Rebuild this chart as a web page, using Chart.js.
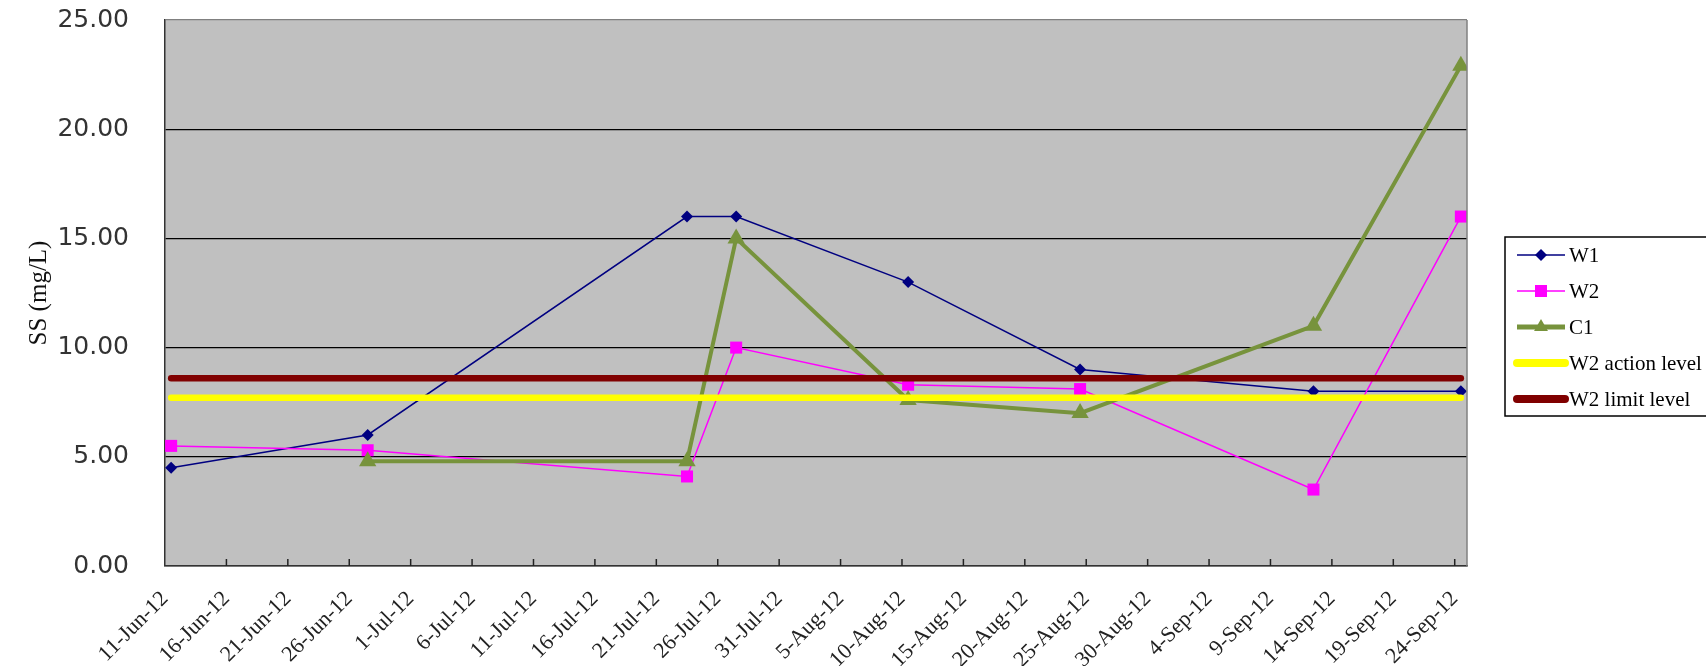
<!DOCTYPE html>
<html>
<head>
<meta charset="utf-8">
<title>SS (mg/L)</title>
<script src="https://cdn.jsdelivr.net/npm/chart.js@4.4.1/dist/chart.umd.min.js"></script>
<style>
    html, body { margin: 0; padding: 0; background: #ffffff; }
    #wrap { width: 1706px; height: 666px; position: relative; }
</style>
</head>
<body>
<div id="wrap"><canvas id="ssChart" width="1706" height="666"></canvas></div>
<script>
// Sampling dates and values
const sampleDates = ["11-Jun-12", "27-Jun-12", "23-Jul-12", "27-Jul-12", "10-Aug-12", "24-Aug-12", "12-Sep-12", "24-Sep-12"];
const w1Values = [4.5, 6.0, 16.0, 16.0, 13.0, 9.0, 8.0, 8.0];
const w2Values = [5.5, 5.3, 4.1, 10.0, 8.3, 8.1, 3.5, 16.0];
const c1Values = [null, 4.8, 4.8, 15.0, 7.6, 7.0, 11.0, 22.9];
const actionValues = [7.7, 7.7, 7.7, 7.7, 7.7, 7.7, 7.7, 7.7];
const limitValues = [8.6, 8.6, 8.6, 8.6, 8.6, 8.6, 8.6, 8.6];

// Axis tick labels
const tickDates = ["11-Jun-12", "16-Jun-12", "21-Jun-12", "26-Jun-12", "1-Jul-12", "6-Jul-12", "11-Jul-12",
    "16-Jul-12", "21-Jul-12", "26-Jul-12", "31-Jul-12", "5-Aug-12", "10-Aug-12", "15-Aug-12", "20-Aug-12",
    "25-Aug-12", "30-Aug-12", "4-Sep-12", "9-Sep-12", "14-Sep-12", "19-Sep-12", "24-Sep-12"];
const yTicks = [0, 5, 10, 15, 20, 25];

const months = ["Jan", "Feb", "Mar", "Apr", "May", "Jun", "Jul", "Aug", "Sep", "Oct", "Nov", "Dec"];

// Function to turn "dd-Mon-yy" into days after the first tick date
function dayOf(label) {
    const parts = label.split("-");
    const t = Date.UTC(2000 + Number(parts[2]), months.indexOf(parts[1]), Number(parts[0]));
    const p0 = tickDates[0].split("-");
    const t0 = Date.UTC(2000 + Number(p0[2]), months.indexOf(p0[1]), Number(p0[0]));
    return (t - t0) / 86400000;
}

// Excel date axis puts points in the middle of their day
function toPoints(values) {
    return sampleDates.map((d, i) => ({ x: dayOf(d) + 0.5, y: values[i] }));
}

const axisMax = dayOf(tickDates[tickDates.length - 1]) + 1;

// Function to draw a legend marker
function drawMarker(ctx, style, x, y, r, color) {
    ctx.save();
    ctx.fillStyle = color;
    ctx.beginPath();
    if (style === "rectRot") {
        ctx.moveTo(x, y - r); ctx.lineTo(x + r, y); ctx.lineTo(x, y + r); ctx.lineTo(x - r, y);
    } else if (style === "rect") {
        const s = r * Math.SQRT1_2;
        ctx.rect(x - s, y - s, 2 * s, 2 * s);
    } else if (style === "triangle") {
        ctx.moveTo(x, y - r);
        ctx.lineTo(x + r * Math.sin(Math.PI / 3), y + r / 2);
        ctx.lineTo(x - r * Math.sin(Math.PI / 3), y + r / 2);
    }
    ctx.closePath();
    ctx.fill();
    ctx.restore();
}

// Plot background, frame, inside ticks and the boxed legend
const excelLook = {
    id: "excelLook",
    beforeDraw(chart) {
        const { ctx, chartArea: a } = chart;
        ctx.save();
        ctx.fillStyle = "#c0c0c0";
        ctx.fillRect(a.left, a.top, a.right - a.left, a.bottom - a.top);
        ctx.restore();
    },
    afterDraw(chart) {
        const { ctx, chartArea: a } = chart;
        const xScale = chart.scales.x;
        ctx.save();
        // right edge of the plot
        ctx.strokeStyle = "#808080";
        ctx.lineWidth = 1.5;
        ctx.beginPath();
        ctx.moveTo(a.right, a.top);
        ctx.lineTo(a.right, a.bottom);
        ctx.stroke();

        // tick marks pointing into the plot
        ctx.strokeStyle = "#222";
        ctx.lineWidth = 1.5;
        xScale.ticks.forEach((t, i) => {
            if (i === 0) return;
            const px = xScale.getPixelForValue(t.value);
            ctx.beginPath();
            ctx.moveTo(px, a.bottom);
            ctx.lineTo(px, a.bottom - 7);
            ctx.stroke();
        });

        // legend
        const boxLeft = a.right + 38;
        const boxTop = 237;
        ctx.strokeStyle = "#000";
        ctx.lineWidth = 1.5;
        ctx.strokeRect(boxLeft, boxTop, 240, 179);
        ctx.font = "21px 'Liberation Serif', 'Times New Roman', serif";
        ctx.textBaseline = "middle";
        ctx.fillStyle = "#000";
        chart.data.datasets.forEach((ds, i) => {
            const y = boxTop + 18 + i * 36;
            ctx.strokeStyle = ds.borderColor;
            ctx.lineWidth = ds.legendLineWidth;
            ctx.lineCap = ds.borderCapStyle || "butt";
            ctx.beginPath();
            ctx.moveTo(boxLeft + 12, y);
            ctx.lineTo(boxLeft + 60, y);
            ctx.stroke();
            if (ds.pointRadius > 0) {
                drawMarker(ctx, ds.pointStyle, boxLeft + 36, y, ds.legendRadius, ds.pointBackgroundColor);
            }
            ctx.fillStyle = "#000";
            ctx.fillText(ds.label, boxLeft + 64, y + 1);
        });
        ctx.restore();
    }
};

// Function to create the line chart
function createLineChart() {
    const ctx = document.getElementById("ssChart").getContext("2d");

    new Chart(ctx, {
        type: "line",
        data: {
            datasets: [
                {
                    label: "W1",
                    data: toPoints(w1Values),
                    borderColor: "#000080",
                    borderWidth: 1.5,
                    pointStyle: "rectRot",
                    pointRadius: 6,
                    pointBackgroundColor: "#000080",
                    pointBorderWidth: 0,
                    legendLineWidth: 1.5,
                    legendRadius: 6,
                    order: 4,
                },
                {
                    label: "W2",
                    data: toPoints(w2Values),
                    borderColor: "#ff00ff",
                    borderWidth: 1.5,
                    pointStyle: "rect",
                    pointRadius: 8.5,
                    pointBackgroundColor: "#ff00ff",
                    pointBorderWidth: 0,
                    legendLineWidth: 1.5,
                    legendRadius: 8.5,
                    order: 3,
                },
                {
                    label: "C1",
                    data: toPoints(c1Values),
                    borderColor: "#77933c",
                    borderWidth: 4,
                    pointStyle: "triangle",
                    pointRadius: 10,
                    pointBackgroundColor: "#77933c",
                    pointBorderWidth: 0,
                    spanGaps: true,
                    legendLineWidth: 5,
                    legendRadius: 8,
                    order: 2,
                },
                {
                    label: "W2 action level",
                    data: toPoints(actionValues),
                    borderColor: "#ffff00",
                    borderWidth: 6.5,
                    borderCapStyle: "round",
                    pointRadius: 0,
                    legendLineWidth: 8,
                    order: 1,
                },
                {
                    label: "W2 limit level",
                    data: toPoints(limitValues),
                    borderColor: "#800000",
                    borderWidth: 6.5,
                    borderCapStyle: "round",
                    pointRadius: 0,
                    legendLineWidth: 8,
                    order: 0,
                },
            ],
        },
        options: {
            responsive: false,
            animation: false,
            layout: {
                padding: { top: 20, right: 239, left: 0, bottom: 0 },
            },
            plugins: {
                legend: { display: false },
                tooltip: { enabled: false },
            },
            scales: {
                x: {
                    type: "linear",
                    min: 0,
                    max: axisMax,
                    afterBuildTicks: (scale) => {
                        scale.ticks = tickDates.map((d) => ({ value: dayOf(d) }));
                    },
                    afterFit: (scale) => {
                        scale.height = 100;
                    },
                    grid: { display: false },
                    border: { display: true, color: "#333", width: 1.5 },
                    ticks: {
                        autoSkip: false,
                        minRotation: 45,
                        maxRotation: 45,
                        padding: 12,
                        color: "#222",
                        font: { family: "'Liberation Serif', 'Times New Roman', serif", size: 22 },
                        callback: (value, index) => tickDates[index],
                    },
                },
                y: {
                    min: 0,
                    max: 25,
                    afterBuildTicks: (scale) => {
                        scale.ticks = yTicks.map((v) => ({ value: v }));
                    },
                    afterFit: (scale) => {
                        scale.width = 165;
                    },
                    grid: {
                        drawTicks: true,
                        tickLength: 32,
                        tickColor: "rgba(0,0,0,0)",
                        color: (c) => (c.tick && c.tick.value === 25 ? "#808080" : "#000"),
                        lineWidth: 1.3,
                    },
                    border: { display: true, color: "#333", width: 1.5 },
                    ticks: {
                        padding: 4,
                        color: "#333",
                        font: { family: "'DejaVu Sans', Verdana, sans-serif", size: 25 },
                        callback: (value) => Number(value).toFixed(2),
                    },
                    title: {
                        display: true,
                        text: "SS (mg/L)",
                        color: "#111",
                        padding: { top: 24, bottom: 0 },
                        font: { family: "'Liberation Serif', 'Times New Roman', serif", size: 25 },
                    },
                },
            },
        },
        plugins: [excelLook],
    });
}

document.addEventListener("DOMContentLoaded", createLineChart);
</script>
</body>
</html>
